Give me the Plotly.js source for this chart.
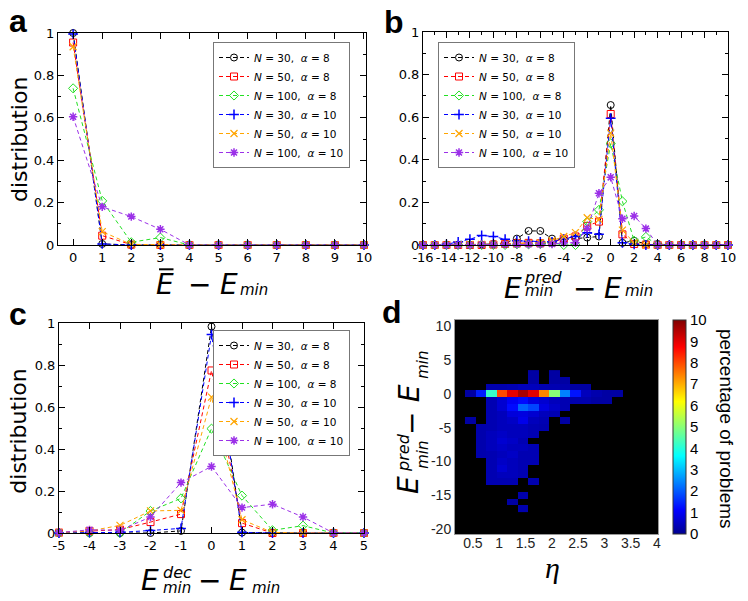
<!DOCTYPE html>
<html><head><meta charset="utf-8">
<script src="https://cdn.plot.ly/plotly-3.0.1.min.js"></script>
<style>html,body{margin:0;padding:0;background:#fff}#chart{width:748px;height:601px}</style>
</head><body><div id="chart"></div>
<script>
// ---------------- data ----------------
const seriesNames = [
  '<i>N</i> = 30,\u00a0 <i>α</i> = 8',
  '<i>N</i> = 50,\u00a0 <i>α</i> = 8',
  '<i>N</i> = 100,\u00a0 <i>α</i> = 8',
  '<i>N</i> = 30,\u00a0 <i>α</i> = 10',
  '<i>N</i> = 50,\u00a0 <i>α</i> = 10',
  '<i>N</i> = 100,\u00a0 <i>α</i> = 10'
];
// panel a : x = Ebar - Emin
const aX = [0,1,2,3,4,5,6,7,8,9,10];
const aN30a8   = [1.0,0.005,0,0,0,0,0,0,0,0,0];
const aN50a8   = [0.955,0.044,0.002,0,0,0,0,0,0,0,0];
const aN100a8  = [0.739,0.208,0.013,0.035,0,0,0,0,0,0,0];
const aN30a10  = [0.995,0.005,0,0,0,0,0,0,0,0,0];
const aN50a10  = [0.935,0.063,0.003,0,0,0,0,0,0,0,0];
const aN100a10 = [0.605,0.18,0.134,0.074,0,0,0,0,0,0,0];
// panel b : x = Epred - Emin
const bX = [-16,-15,-14,-13,-12,-11,-10,-9,-8,-7,-6,-5,-4,-3,-2,-1,0,1,2,3,4,5,6,7,8,9,10];
const bN30a8   = [0,0,0,0,0,0.003,0.005,0.01,0.03,0.066,0.066,0.03,0.025,0.03,0.035,0.04,0.657,0.01,0.02,0.005,0.005,0,0,0,0,0,0];
const bN50a8   = [0,0,0,0,0,0,0.002,0.005,0.008,0.01,0.008,0.012,0.03,0.04,0.09,0.11,0.615,0.05,0.005,0.002,0,0,0,0,0,0,0];
const bN100a8  = [0,0,0,0,0,0,0,0,0.003,0.003,0.005,0.01,0,0,0.11,0.165,0.477,0.205,0.02,0.038,0,0,0,0,0,0,0];
const bN30a10  = [0,0,0.003,0.015,0.027,0.045,0.04,0.027,0.02,0.018,0.015,0.015,0.028,0.04,0.058,0.05,0.595,0.01,0.003,0,0,0,0,0,0,0,0];
const bN50a10  = [0,0,0,0.002,0.003,0.003,0.003,0.005,0.005,0.008,0.01,0.02,0.04,0.058,0.128,0.12,0.525,0.07,0.01,0,0,0,0,0,0,0,0];
const bN100a10 = [0,0,0,0,0,0.002,0.002,0.003,0.003,0.003,0.003,0.005,0.01,0.01,0.078,0.243,0.318,0.123,0.136,0.077,0,0,0,0,0,0,0];
// panel c : x = Edec - Emin
const cX = [-5,-4,-3,-2,-1,0,1,2,3,4,5];
const cN30a8   = [0,0,0,0,0.01,0.983,0.002,0,0,0,0];
const cN50a8   = [0.002,0.01,0.016,0.052,0.09,0.774,0.047,0,0,0,0];
const cN100a8  = [0,0,0,0.105,0.165,0.497,0.178,0.013,0.035,0,0];
const cN30a10  = [0,0.002,0.003,0.012,0.022,0.945,0.003,0,0,0,0];
const cN50a10  = [0.002,0.01,0.036,0.105,0.108,0.647,0.063,0.003,0,0,0];
const cN100a10 = [0.002,0.015,0.013,0.076,0.24,0.317,0.121,0.137,0.076,0,0];
// tick labels
const aTickVals = [0,1,2,3,4,5,6,7,8,9,10];
const aTickText = ['0','1','2','3','4','5','6','7','8','9','10'];
const bTickVals = [-16,-14,-12,-10,-8,-6,-4,-2,0,2,4,6,8,10];
const bTickText = ['-16','-14','-12','-10','-8','-6','-4','-2','0','2','4','6','8','10'];
const cTickVals = [-5,-4,-3,-2,-1,0,1,2,3,4,5];
const cTickText = ['-5','-4','-3','-2','-1','0','1','2','3','4','5'];
const distTickVals = [0,0.2,0.4,0.6,0.8,1];
const distTickText = ['0','0.2','0.4','0.6','0.8','1'];
const etaTickVals = [0.5,1,1.5,2,2.5,3,3.5,4];
const etaTickText = ['0.5','1','1.5','2','2.5','3','3.5','4'];
const dETickVals = [-20,-15,-10,-5,0,5,10];
const dETickText = ['-20','-15','-10','-5','0','5','10'];
const cbTickVals = [0,1,2,3,4,5,6,7,8,9,10];
// panel d : heatmap (percentage of problems), columns = eta bins, rows = Epred - Emin
const etaCenters = [0.45,0.65,0.85,1.05,1.25,1.45,1.65,1.85,2.05,2.25,2.45,2.65,2.85,3.05,3.25];
const dERows = [-17,-16,-15,-14,-13,-12,-11,-10,-9,-8,-7,-6,-5,-4,-3,-2,-1,0,1,2,3];
const n = null;
const pctZ = [
  [n,n,n,n,n,0.3,n,n,n,n,n,n,n,n,n],             // -17
  [n,n,n,n,0.2,n,n,n,n,n,n,n,n,n,n],             // -16
  [n,n,n,n,n,0.3,n,n,n,n,n,n,n,n,n],             // -15
  [n,n,n,n,n,n,n,n,n,n,n,n,n,n,n],               // -14
  [n,n,0.35,0.35,0.35,n,0.3,n,n,n,n,n,n,n,n],    // -13
  [n,n,0.35,0.45,0.45,0.35,n,n,n,n,n,n,n,n,n],   // -12
  [n,n,0.35,0.65,0.45,0.35,n,n,n,n,n,n,n,n,n],   // -11
  [n,n,0.35,0.55,0.45,0.35,0.35,n,n,n,n,n,n,n,n],// -10
  [n,0.3,0.35,0.45,0.55,0.35,0.35,n,n,n,n,n,n,n,n], // -9
  [n,0.3,0.45,0.55,0.45,0.45,0.35,n,n,n,n,n,n,n,n], // -8
  [n,0.3,0.45,0.65,0.55,0.35,n,n,n,n,n,n,n,n,n],    // -7
  [n,0.3,0.45,0.55,0.45,0.45,0.35,n,n,n,n,n,n,n,n], // -6
  [n,0.3,0.35,0.45,0.45,0.45,0.35,0.3,n,n,n,n,n,n,n], // -5
  [0.2,n,0.35,0.45,0.55,0.9,0.45,0.35,n,0.2,n,n,n,n,n], // -4
  [n,n,0.35,0.45,0.75,0.8,0.65,0.45,0.35,n,n,n,n,n,n],   // -3
  [n,n,0.35,0.65,1.2,2.1,1.8,0.8,0.55,0.35,n,n,n,n,n],   // -2
  [n,n,0.35,0.65,1.0,1.2,0.8,0.65,0.45,0.35,0.3,0.3,0.2,0.2,n], // -1
  [0.2,1.4,4.2,8.0,9.0,9.6,9.0,7.4,5.0,2.4,1.3,0.45,0.3,0.2,0.2], // 0
  [n,n,0.3,0.3,0.35,0.45,0.45,0.35,0.35,0.3,0.2,0.2,n,n,n],     // 1
  [n,n,n,n,n,n,0.2,n,0.2,0.2,n,n,n,n,n],        // 2
  [n,n,n,n,n,n,0.2,n,0.2,n,n,n,n,n,n]           // 3
];

// ---------------- layout helpers ----------------
const W = 748, H = 601;
const px = v => v / W;
const py = v => 1 - v / H;

const colors = ['#000000','#ff0000','#22e022','#0000ff','#ffa500','#9b30e8'];
const symbols = ['circle-open','square-open','diamond-open','cross-thin-open','x-thin-open','asterisk-open'];
const mlw = [1,1,1,1.5,1.2,1.5];

const traces = [];
function addPanel(xs, ys, xa, ya, leg) {
  ys.forEach((y, i) => {
    traces.push({
      type: 'scatter', mode: 'lines+markers', x: xs, y: y, xaxis: xa, yaxis: ya,
      name: seriesNames[i], legend: leg, cliponaxis: false,
      line: {color: colors[i], width: 1, dash: '4px,3px'},
      marker: {symbol: symbols[i], size: 7, color: colors[i], line: {color: colors[i], width: mlw[i]}}
    });
  });
}
addPanel(aX, [aN30a8,aN50a8,aN100a8,aN30a10,aN50a10,aN100a10], 'x', 'y', 'legend');
addPanel(bX, [bN30a8,bN50a8,bN100a8,bN30a10,bN50a10,bN100a10], 'x2', 'y2', 'legend2');
addPanel(cX, [cN30a8,cN50a8,cN100a8,cN30a10,cN50a10,cN100a10], 'x3', 'y3', 'legend3');

const jet = [[0,'rgb(0,0,143)'],[0.111,'rgb(0,0,255)'],[0.365,'rgb(0,255,255)'],[0.619,'rgb(255,255,0)'],[0.873,'rgb(255,0,0)'],[1,'rgb(128,0,0)']];
traces.push({
  type: 'heatmap', x: etaCenters, y: dERows, z: pctZ, xaxis: 'x4', yaxis: 'y4',
  colorscale: jet, zmin: 0, zmax: 10, showlegend: false, hoverongaps: false,
  colorbar: {
    x: px(673), xanchor: 'left', xref: 'paper', y: py(534), yanchor: 'bottom', yref: 'paper',
    len: 214 / H, lenmode: 'fraction', thickness: 13, thicknessmode: 'pixels',
    xpad: 0, ypad: 0, outlinewidth: 1, outlinecolor: '#333',
    tickmode: 'array', tickvals: cbTickVals, ticks: '',
    tickfont: {family: 'Liberation Sans, Arial, sans-serif', size: 15, color: '#000'}
  }
});

const tf = {family: 'DejaVu Sans, sans-serif', size: 13, color: '#000'};
function frameAxis(extra) {
  return Object.assign({
    showline: true, linecolor: '#000', linewidth: 1, mirror: 'ticks',
    ticks: 'inside', ticklen: 6, tickcolor: '#000', tickwidth: 1,
    showgrid: false, zeroline: false, tickfont: tf, tickangle: 0, fixedrange: true
  }, extra);
}
const yMinor = {ticks: 'inside', ticklen: 3, tickcolor: '#000', dtick: 0.1, tick0: 0, showgrid: false};

const legendBase = {
  bgcolor: '#ffffff', bordercolor: '#777', borderwidth: 1,
  font: {family: 'DejaVu Sans, sans-serif', size: 10.5, color: '#000'},
  tracegroupgap: 0, itemwidth: 30
};

const itF = (s) => ({family: 'DejaVu Sans, sans-serif', size: s, color: '#000'});
function ann(text, x, y, size, opts) {
  return Object.assign({
    text: text, x: px(x), y: py(y), xref: 'paper', yref: 'paper',
    xanchor: 'center', yanchor: 'middle', showarrow: false, borderpad: 0,
    font: itF(size)
  }, opts || {});
}
const letterFont = {family: 'Liberation Sans, Arial, sans-serif', size: 32, color: '#000'};
const annotations = [
  // panel letters
  ann('<b>a</b>', 7.5, 20.6, 32, {xanchor: 'left', font: letterFont}),
  ann('<b>b</b>', 383, 21.9, 32, {xanchor: 'left', font: letterFont}),
  ann('<b>c</b>', 7.5, 313.9, 32, {xanchor: 'left', font: letterFont}),
  ann('<b>d</b>', 381, 312.2, 32, {xanchor: 'left', font: letterFont}),
  // y titles
  ann('distribution', 19, 140, 22, {textangle: -90}),
  ann('distribution', 19, 431.7, 22, {textangle: -90}),
  // a x title
  ann('<i>E</i>', 165, 284.5, 28),
  ann('−', 199, 284.5, 28),
  ann('<i>E</i>', 229, 284.5, 28),
  ann('<i>min</i>', 253.5, 289.5, 15),
  // b x title
  ann('<i>E</i>', 512.5, 288.3, 28),
  ann('<i>pred</i>', 543.3, 277.8, 16),
  ann('<i>min</i>', 539, 291.2, 15),
  ann('−', 584, 288.3, 28),
  ann('<i>E</i>', 612.5, 288.3, 28),
  ann('<i>min</i>', 639, 291.2, 15),
  // c x title
  ann('<i>E</i>', 150, 580, 28),
  ann('<i>dec</i>', 177.5, 572.8, 16),
  ann('<i>min</i>', 176.7, 587.8, 15),
  ann('−', 209, 580, 28),
  ann('<i>E</i>', 238.3, 580, 28),
  ann('<i>min</i>', 266, 587.8, 15),
  // d y title (rotated)
  ann('<i>E</i>', 409, 485, 28, {textangle: -90}),
  ann('<i>pred</i>', 403.4, 452.5, 16, {textangle: -90}),
  ann('<i>min</i>', 422.8, 455, 15, {textangle: -90}),
  ann('−', 411, 424, 28, {textangle: -90}),
  ann('<i>E</i>', 409, 393.3, 28, {textangle: -90}),
  ann('<i>min</i>', 422.8, 365, 15, {textangle: -90}),
  // d x title
  ann('<i>η</i>', 552, 567, 30, {font: {family: 'Liberation Serif, serif', size: 30, color: '#000'}}),
  // colorbar title
  ann('percentage of problems', 726.6, 428.5, 19, {textangle: 90, font: {family: 'Liberation Sans, Arial, sans-serif', size: 19, color: '#000'}})
];

const dTick = {family: 'Liberation Sans, Arial, sans-serif', size: 14, color: '#222'};
const layout = {
  width: W, height: H, margin: {l: 0, r: 0, t: 0, b: 0},
  paper_bgcolor: '#ffffff', plot_bgcolor: '#ffffff', showlegend: true,
  xaxis:  frameAxis({domain: [px(58), px(366)], anchor: 'y', range: [-0.52, 10.07], tickmode: 'array', tickvals: aTickVals, ticktext: aTickText}),
  yaxis:  frameAxis({domain: [py(245), py(33)], anchor: 'x', range: [0, 1], tickmode: 'array', tickvals: distTickVals, ticktext: distTickText, minor: yMinor}),
  xaxis2: frameAxis({domain: [px(423), px(728)], anchor: 'y2', range: [-16, 10], tickmode: 'array', tickvals: bTickVals, ticktext: bTickText, minor: {ticks: 'inside', ticklen: 3, tickcolor: '#000', dtick: 1, tick0: 0, showgrid: false}}),
  yaxis2: frameAxis({domain: [py(245), py(32)], anchor: 'x2', range: [0, 1], tickmode: 'array', tickvals: distTickVals, ticktext: distTickText, minor: yMinor}),
  xaxis3: frameAxis({domain: [px(59), px(364)], anchor: 'y3', range: [-5, 5], tickmode: 'array', tickvals: cTickVals, ticktext: cTickText}),
  yaxis3: frameAxis({domain: [py(533), py(323)], anchor: 'x3', range: [0, 1], tickmode: 'array', tickvals: distTickVals, ticktext: distTickText, minor: yMinor}),
  xaxis4: {domain: [px(455), px(658)], anchor: 'y4', range: [0.16, 4.02], tickmode: 'array', tickvals: etaTickVals, ticktext: etaTickText,
           showline: true, mirror: true, linecolor: '#999', linewidth: 1, ticks: '', showgrid: false, zeroline: false, tickfont: dTick, tickangle: 0, fixedrange: true, ticklabelstandoff: -4},
  yaxis4: {domain: [py(534), py(320)], anchor: 'x4', range: [-20.7, 10.9], tickmode: 'array', tickvals: dETickVals, ticktext: dETickText,
           showline: true, mirror: true, linecolor: '#999', linewidth: 1, ticks: '', showgrid: false, zeroline: false, tickfont: dTick, fixedrange: true},
  legend:  Object.assign({}, legendBase, {x: px(350), xanchor: 'right', y: py(42), yanchor: 'top'}),
  legend2: Object.assign({}, legendBase, {x: px(438), xanchor: 'left', y: py(42), yanchor: 'top'}),
  legend3: Object.assign({}, legendBase, {x: px(350), xanchor: 'right', y: py(330), yanchor: 'top'}),
  shapes: [
    {type: 'rect', xref: 'x4 domain', yref: 'y4 domain', x0: 0, x1: 1, y0: 0, y1: 1, fillcolor: '#000', line: {width: 0}, layer: 'below'},
    {type: 'line', xref: 'paper', yref: 'paper', x0: px(159), x1: px(173.5), y0: py(269.3), y1: py(269.3), line: {color: '#000', width: 2}}
  ],
  annotations: annotations
};

Plotly.newPlot('chart', traces, layout, {displayModeBar: false, staticPlot: true});
</script>
</body></html>
